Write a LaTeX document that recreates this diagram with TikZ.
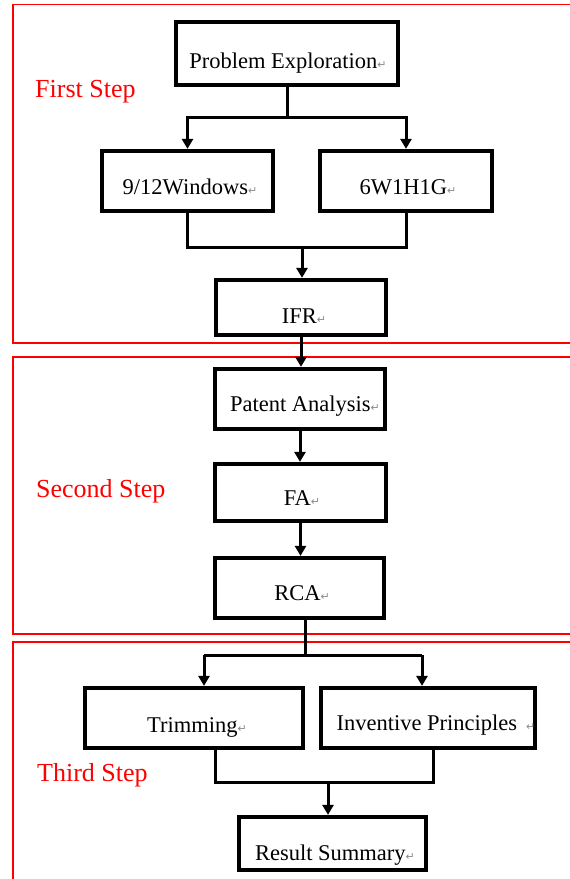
\documentclass[tikz,border=0pt]{standalone}
\usepackage{fontspec}
\setmainfont{Liberation Serif}
\newfontfamily\dejavu{DejaVu Sans}
\usetikzlibrary{arrows.meta}
\newcommand\retmark{{\fontsize{11}{11}\selectfont\dejavu\color{black!45}↵}}
\tikzset{
  boxnode/.style={draw=black, line width=4.2pt, fill=white, inner sep=0pt},
  lab/.style={anchor=base, inner sep=0pt, font=\fontsize{22.5}{22.5}\selectfont},
  steplab/.style={anchor=base west, inner sep=0pt, text=red, font=\fontsize{26}{26}\selectfont},
  redframe/.style={draw=red, line width=1.7pt},
  conn/.style={draw=black, line width=3pt},
  arr/.style={conn, -{Triangle[width=11pt,length=10pt]}},
}
\begin{document}
\begin{tikzpicture}[x=1pt,y=-1pt]
\useasboundingbox (0,0) rectangle (570,879);
\fill[white] (0,0) rectangle (570,879);
\begin{scope}
\clip (0,0) rectangle (570,879);
% red frames
\draw[redframe] (13,4.5) rectangle (600,343);
\draw[redframe] (13,357) rectangle (600,634);
\draw[redframe] (13,642) rectangle (600,900);
\end{scope}
% step labels
\node[steplab] (l1) at (35,97) {First Step};
\node[steplab] (l2) at (36,497) {Second Step};
\node[steplab] (l3) at (37,781) {Third Step};
% boxes
\node[boxnode, minimum width=222, minimum height=63] (pe) at (287,53.5) {};
\node[boxnode, minimum width=171, minimum height=60] (w) at (187.5,181) {};
\node[boxnode, minimum width=172, minimum height=60] (g) at (406,181) {};
\node[boxnode, minimum width=170, minimum height=55] (ifr) at (301,307.5) {};
\node[boxnode, minimum width=170, minimum height=60] (pa) at (300,399) {};
\node[boxnode, minimum width=171, minimum height=57] (fa) at (300.5,492.5) {};
\node[boxnode, minimum width=169, minimum height=60] (rca) at (299.5,588) {};
\node[boxnode, minimum width=218, minimum height=60] (t) at (194,718) {};
\node[boxnode, minimum width=214, minimum height=60] (ip) at (428,718) {};
\node[boxnode, minimum width=187, minimum height=53] (rs) at (332.5,843.5) {};
% texts
\node[lab] (pet) at (288,68) {Problem Exploration\retmark};
\node[lab] (wt) at (190,194) {9/12Windows\retmark};
\node[lab] (gt) at (408,194) {6W1H1G\retmark};
\node[lab] (ifrt) at (304,323) {IFR\retmark};
\node[lab] (pat) at (305,411) {Patent Analysis\retmark};
\node[lab] (fat) at (302,505) {FA\retmark};
\node[lab] (rcat) at (302,600) {RCA\retmark};
\node[lab] (tt) at (197,732) {Trimming\retmark};
\node[lab] (ipt) at (436,730) {Inventive Principles\hspace{9pt}\retmark};
\node[lab] (rst) at (335,860) {Result Summary\retmark};
% helper coordinates
\coordinate (s1) at (287,117);
\coordinate (j1) at (302,247);
\coordinate (s3) at (305,655);
\coordinate (s3l) at (204,655);
\coordinate (s3r) at (422,655);
\coordinate (j3) at (328,782);
\coordinate (j3l) at (215,782);
\coordinate (j3r) at (433,782);
% connectors, first step
\draw[conn] (pe.south) -- (s1);
\draw[arr] (s1) -| (w.north);
\draw[arr] (s1) -| (g.north);
\draw[conn] (w.south) |- (j1);
\draw[conn] (g.south) |- (j1);
\draw[arr] (j1) -- (j1 |- ifr.north);
% second step
\draw[arr] (ifr.south) -- (ifr.south |- pa.north);
\draw[arr] (pa.south) -- (pa.south |- fa.north);
\draw[arr] (fa.south) -- (fa.south |- rca.north);
% third step
\draw[conn] (rca.south -| s3) -- (s3);
\draw[conn] (s3l) -- (s3r);
\draw[arr] (s3l) -- (s3l |- t.north);
\draw[arr] (s3r) -- (s3r |- ip.north);
\draw[conn] (t.south -| j3l) -- (j3l) -- (j3r) -- (ip.south -| j3r);
\draw[arr] (j3) -- (j3 |- rs.north);
\end{tikzpicture}
\end{document}
